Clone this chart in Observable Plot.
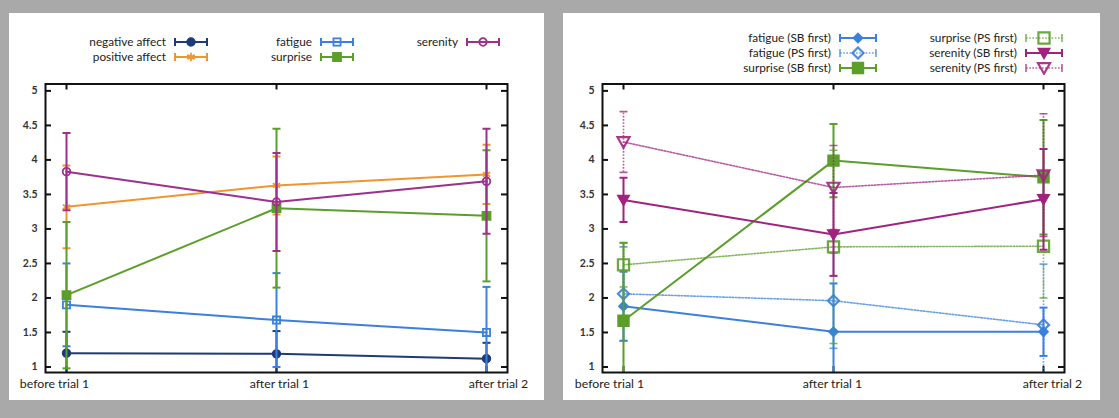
<!DOCTYPE html>
<html>
<head>
<meta charset="utf-8">
<script src="https://cdn.jsdelivr.net/npm/d3@7"></script>
<script src="https://cdn.jsdelivr.net/npm/@observablehq/plot@0.6"></script>
<style>
  html, body { margin: 0; padding: 0; }
  body { width: 1119px; height: 418px; background: #a9a9a9; position: relative; overflow: hidden; font-family: Lato, "Open Sans", sans-serif; }
  .panel { position: absolute; background: #fff; }
  .lg-text { position: absolute; font-size: 11.8px; color: #222; white-space: nowrap; text-align: right; line-height: 14px; }
  .lg-sample { position: absolute; }
</style>
</head>
<body>
<script>
// Time points on the x axis
const categories = ["before trial 1", "after trial 1", "after trial 2"];
const yTicks = [1, 1.5, 2, 2.5, 3, 3.5, 4, 4.5, 5];

// Left chart: mean ratings and error half-widths
const negativeAffect = [1.20, 1.19, 1.12];
const negativeAffectErr = [0.31, 0.33, 0.23];
const positiveAffect = [3.32, 3.63, 3.79];
const positiveAffectErr = [0.60, 0.42, 0.43];
const fatigue = [1.90, 1.68, 1.50];
const fatigueErr = [0.60, 0.68, 0.66];
const surprise = [2.04, 3.30, 3.19];
const surpriseErr = [1.06, 1.15, 0.95];
const serenity = [3.83, 3.39, 3.69];
const serenityErr = [0.56, 0.71, 0.76];

// Right chart: split by condition order
const fatigueSB = [1.88, 1.51, 1.51];
const fatigueSBErr = [0.50, 0.70, 0.35];
const fatiguePS = [2.06, 1.96, 1.61];
const fatiguePSErr = [0.68, 0.69, 0.88];
const surpriseSB = [1.67, 3.99, 3.75];
const surpriseSBErr = [1.13, 0.53, 0.83];
const surprisePS = [2.48, 2.74, 2.75];
const surprisePSErr = [0.32, 1.40, 0.75];
const serenitySB = [3.42, 2.92, 3.43];
const serenitySBErr = [0.32, 0.60, 0.73];
const serenityPS = [4.26, 3.60, 3.78];
const serenityPSErr = [0.44, 0.61, 0.89];

// ---- symbols ----
const capSymbol = {draw(ctx, size) { const r = Math.sqrt(size / Math.PI); ctx.moveTo(-r, 0); ctx.lineTo(r, 0); }};
const triangleDown = {draw(ctx, size) {
  const r = Math.sqrt(size / Math.PI);
  ctx.moveTo(-r, -0.8 * r); ctx.lineTo(r, -0.8 * r); ctx.lineTo(0, 0.95 * r); ctx.closePath();
}};

const C = {navy: "#1d3b78", orange: "#f0962e", blue: "#3a80dc", green: "#5b9f2a", purple: "#9e2f8c", magenta: "#a1237f"};

const leftSeries = [
  {name: "negative affect", values: negativeAffect, err: negativeAffectErr, color: C.navy, symbol: d3.symbolCircle, r: 3.8, filled: true},
  {name: "positive affect", values: positiveAffect, err: positiveAffectErr, color: C.orange, symbol: d3.symbolAsterisk, r: 4, filled: false},
  {name: "fatigue", values: fatigue, err: fatigueErr, color: C.blue, symbol: d3.symbolSquare, r: 4, filled: false},
  {name: "surprise", values: surprise, err: surpriseErr, color: C.green, symbol: d3.symbolSquare, r: 4.5, filled: true},
  {name: "serenity", values: serenity, err: serenityErr, color: C.purple, symbol: d3.symbolCircle, r: 3.8, filled: false}
];

const rightSeries = [
  {name: "fatigue (SB first)", values: fatigueSB, err: fatigueSBErr, color: C.blue, symbol: d3.symbolDiamond2, r: 4, filled: true},
  {name: "fatigue (PS first)", values: fatiguePS, err: fatiguePSErr, color: C.blue, symbol: d3.symbolDiamond2, r: 5, filled: false, dotted: true},
  {name: "surprise (SB first)", values: surpriseSB, err: surpriseSBErr, color: C.green, symbol: d3.symbolSquare, r: 6, filled: true},
  {name: "surprise (PS first)", values: surprisePS, err: surprisePSErr, color: C.green, symbol: d3.symbolSquare, r: 6.3, filled: false, dotted: true},
  {name: "serenity (SB first)", values: serenitySB, err: serenitySBErr, color: C.magenta, symbol: triangleDown, r: 5.5, filled: true},
  {name: "serenity (PS first)", values: serenityPS, err: serenityPSErr, color: C.magenta, symbol: triangleDown, r: 6, filled: false, dotted: true}
];

function rows(s) {
  return s.values.map((v, i) => ({x: i, y: v, lo: v - s.err[i], hi: v + s.err[i]}));
}

function seriesMarks(s) {
  const data = rows(s);
  const line = s.dotted
    ? {stroke: s.color, strokeWidth: 1.6, strokeDasharray: "1.6,1.6", strokeOpacity: 0.75}
    : {stroke: s.color, strokeWidth: 2};
  return [
    Plot.ruleX(data, {x: "x", y1: "lo", y2: "hi", ...line, clip: true}),
    Plot.dot(data, {x: "x", y: "lo", symbol: capSymbol, r: 4, fill: "none", ...line, strokeDasharray: null, clip: true}),
    Plot.dot(data, {x: "x", y: "hi", symbol: capSymbol, r: 4, fill: "none", ...line, strokeDasharray: null, clip: true}),
    Plot.line(data, {x: "x", y: "y", ...line, clip: true}),
    Plot.dot(data, {x: "x", y: "y", symbol: s.symbol, r: s.r,
      fill: s.filled ? s.color : "none", stroke: s.color,
      strokeWidth: s.dotted ? 2.2 : 1.8, strokeOpacity: s.dotted ? 0.9 : 1, clip: true})
  ];
}

function makePanel({left, top, width, height, marginLeft, marginRight, series, labelShift}) {
  const div = document.createElement("div");
  div.className = "panel";
  Object.assign(div.style, {left: left + "px", top: top + "px", width: width + "px", height: height + "px"});
  const marginTop = 70.5, marginBottom = 28;
  const frameW = width - marginLeft - marginRight;
  const frameH = height - marginTop - marginBottom;
  const tickLen = 6;
  const idx = categories.map((c, i) => i);
  const chart = Plot.plot({
    width, height, marginLeft, marginRight, marginTop, marginBottom,
    x: {domain: [-0.1, 2.1], axis: null},
    y: {domain: [0.92, 5.1], axis: null},
    style: {fontFamily: "Lato, 'Open Sans', sans-serif", background: "transparent", overflow: "visible"},
    marks: [
      // inward ticks on all four sides
      Plot.tickY(yTicks, {y: d => d, insetRight: frameW - tickLen, stroke: "#111", strokeWidth: 2}),
      Plot.tickY(yTicks, {y: d => d, insetLeft: frameW - tickLen, stroke: "#111", strokeWidth: 2}),
      Plot.tickX(idx, {x: d => d, insetBottom: frameH - tickLen, stroke: "#111", strokeWidth: 2}),
      Plot.tickX(idx, {x: d => d, insetTop: frameH - tickLen, stroke: "#111", strokeWidth: 2}),
      Plot.axisY({ticks: yTicks, tickSize: 0, tickPadding: 8, tickFormat: d => String(d),
        fontSize: 10.5, fontWeight: "bold", fill: "#333"}),
      ...categories.map((c, i) => Plot.text([c], {x: () => i, frameAnchor: "bottom", dy: 15, dx: labelShift[i],
        text: d => d, fontSize: 12.3, fill: "#222"})),
      ...series.flatMap(seriesMarks),
      Plot.frame({stroke: "#111", strokeWidth: 2})
    ]
  });
  div.appendChild(chart);
  document.body.appendChild(div);
}

function legendSample(s, w) {
  const ns = "http://www.w3.org/2000/svg";
  const svg = document.createElementNS(ns, "svg");
  svg.setAttribute("width", w); svg.setAttribute("height", 14);
  svg.setAttribute("class", "lg-sample");
  const dash = s.dotted ? "1.6,1.6" : null;
  const sw = s.dotted ? 1.6 : 2;
  const op = s.dotted ? 0.75 : 1;
  const path = (d, extra) => {
    const p = document.createElementNS(ns, "path");
    p.setAttribute("d", d);
    p.setAttribute("stroke", s.color);
    p.setAttribute("stroke-width", sw);
    p.setAttribute("stroke-opacity", op);
    p.setAttribute("fill", "none");
    if (extra) for (const [k, v] of Object.entries(extra)) p.setAttribute(k, v);
    svg.appendChild(p);
    return p;
  };
  path(`M1,7H${w - 1}`, dash ? {"stroke-dasharray": dash} : null);
  path(`M1,3V11M${w - 1},3V11`);
  path(d3.symbol(s.symbol, s.r * s.r * Math.PI)(), {
    transform: `translate(${w / 2},7)`,
    fill: s.filled ? s.color : "none",
    "stroke-width": s.dotted ? 2.2 : 1.8,
    "stroke-opacity": s.dotted ? 0.9 : 1
  });
  return svg;
}

function makeLegend(series, columns, rowsY, sampleW) {
  const perCol = rowsY.length;
  series.forEach((s, k) => {
    const col = Math.floor(k / perCol), row = k % perCol;
    const t = document.createElement("div");
    t.className = "lg-text";
    t.textContent = s.name;
    t.style.right = (1119 - columns[col]) + "px";
    t.style.top = (rowsY[row] - 7) + "px";
    document.body.appendChild(t);
    const svg = legendSample(s, sampleW);
    svg.style.left = (columns[col] + 8) + "px";
    svg.style.top = (rowsY[row] - 7) + "px";
    document.body.appendChild(svg);
  });
}

makePanel({left: 9, top: 13, width: 535, height: 387, marginLeft: 36, marginRight: 37,
  series: leftSeries, labelShift: [-12, 3, 12]});
makePanel({left: 563, top: 13, width: 537, height: 387, marginLeft: 39, marginRight: 36,
  series: rightSeries, labelShift: [-14, -1, 9]});

makeLegend(leftSeries, [166, 312, 458], [42, 57], 34);
makeLegend(rightSeries, [831, 1017], [38, 53, 68], 38);
</script>
</body>
</html>
